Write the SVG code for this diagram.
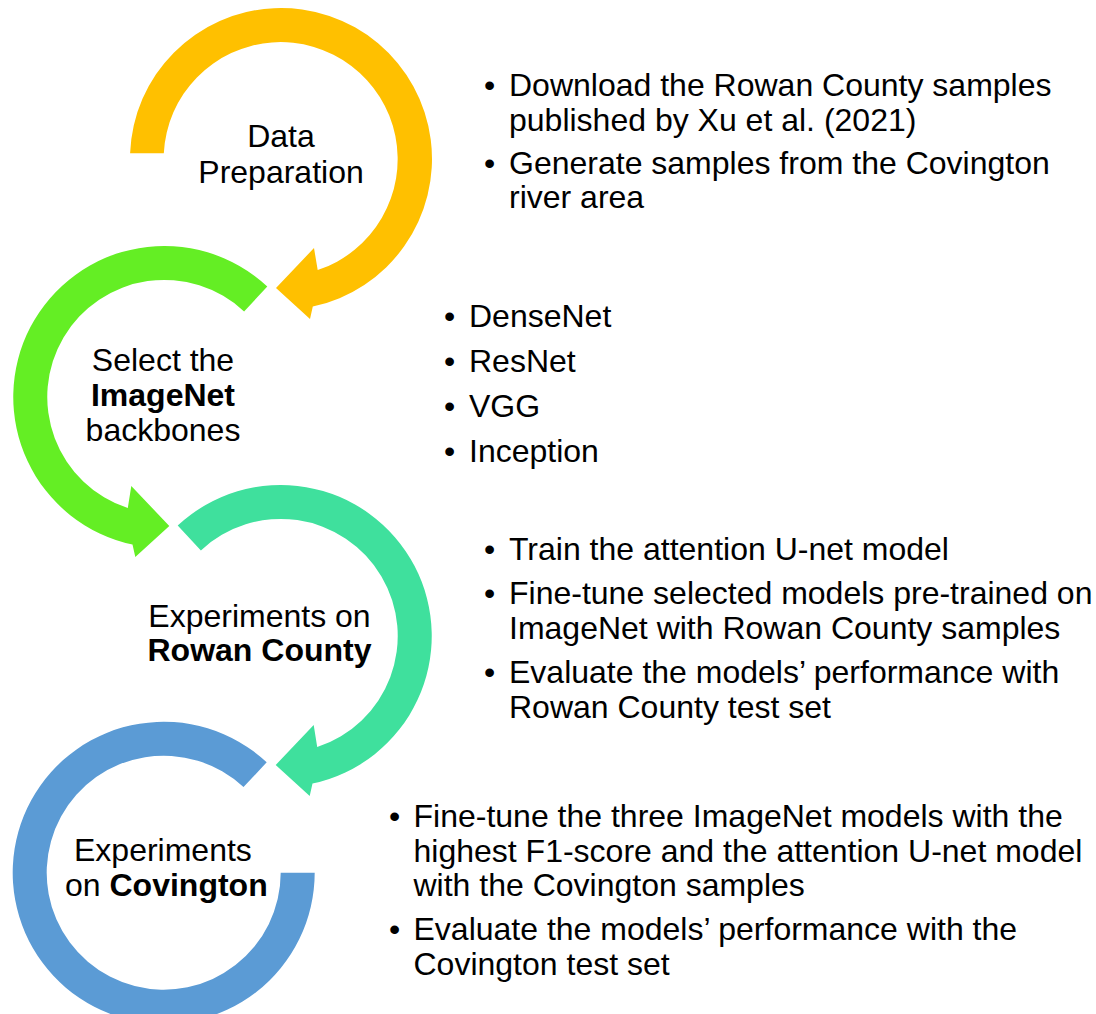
<svg xmlns="http://www.w3.org/2000/svg" width="1096" height="1014" viewBox="0 0 1096 1014">
<style>
  .t { font-family: "Liberation Sans", Arial, sans-serif; font-size: 32px; fill: #000; }
  .c { text-anchor: middle; }
  .b { font-weight: bold; }
  .yellow { fill: #FFC000; }
  .green { fill: #64EE24; }
  .teal { fill: #3FE09D; }
  .blue { fill: #5B9BD5; }
</style>
<rect width="1096" height="1014" fill="#fff"/>

<g id="node-data-preparation">
  <path class="yellow" d="M 130.1,153.3 A 151 151 0 1 1 312.8,306.6 L 310,319 L 276,288 L 314,248 L 317.7,270.1 A 117 117 0 1 0 163.8,153.3 Z"/>
  <text class="t c" x="281" y="147">Data</text>
  <text class="t c" x="281" y="183">Preparation</text>
</g>

<g id="node-select-backbones">
  <path class="green" d="M 267.3,286.6 A 151 151 0 1 0 132.5,544.6 L 135.3,557 L 169.3,526 L 131.3,486 L 127.8,508.1 A 117 117 0 1 1 244.1,311.4 Z"/>
  <text class="t c" x="163" y="371">Select the</text>
  <text class="t c b" x="163" y="406">ImageNet</text>
  <text class="t c" x="163" y="441">backbones</text>
</g>

<g id="node-rowan-county">
  <path class="teal" d="M 177.7,525.6 A 151 151 0 1 1 312.5,783.6 L 309.7,796 L 275.7,765 L 313.7,725 L 317.2,747.1 A 117 117 0 1 0 200.9,550.4 Z"/>
  <text class="t c" x="259.5" y="627">Experiments on</text>
  <text class="t c b" x="259.5" y="661">Rowan County</text>
</g>

<g id="node-covington">
  <path class="blue" d="M 266.7,762.3 A 151 151 0 1 0 314.7,872.7 L 280.7,872.7 A 117 117 0 1 1 243.5,787.1 Z"/>
  <text class="t" x="74" y="861">Experiments</text>
  <text class="t" x="65" y="896">on <tspan class="b">Covington</tspan></text>
</g>

<g id="connectors"></g>

<g id="list-data-preparation">
  <text class="t" x="484" y="96">•</text>
  <text class="t" x="509" y="96">Download the Rowan County samples</text>
  <text class="t" x="509" y="131">published by Xu et al. (2021)</text>
  <text class="t" x="484" y="174">•</text>
  <text class="t" x="509" y="174">Generate samples from the Covington</text>
  <text class="t" x="509" y="208">river area</text>
</g>

<g id="list-backbones">
  <text class="t" x="444" y="327">•</text>
  <text class="t" x="469" y="327">DenseNet</text>
  <text class="t" x="444" y="372">•</text>
  <text class="t" x="469" y="372">ResNet</text>
  <text class="t" x="444" y="417">•</text>
  <text class="t" x="469" y="417">VGG</text>
  <text class="t" x="444" y="462">•</text>
  <text class="t" x="469" y="462">Inception</text>
</g>

<g id="list-rowan-county">
  <text class="t" x="484" y="560">•</text>
  <text class="t" x="509" y="560">Train the attention U-net model</text>
  <text class="t" x="484" y="604">•</text>
  <text class="t" x="509" y="604">Fine-tune selected models pre-trained on</text>
  <text class="t" x="509" y="639">ImageNet with Rowan County samples</text>
  <text class="t" x="484" y="683">•</text>
  <text class="t" x="509" y="683">Evaluate the models’ performance with</text>
  <text class="t" x="509" y="718">Rowan County test set</text>
</g>

<g id="list-covington">
  <text class="t" x="389" y="827">•</text>
  <text class="t" x="413.5" y="827">Fine-tune the three ImageNet models with the</text>
  <text class="t" x="413.5" y="862">highest F1-score and the attention U-net model</text>
  <text class="t" x="413.5" y="896">with the Covington samples</text>
  <text class="t" x="389" y="940">•</text>
  <text class="t" x="413.5" y="940">Evaluate the models’ performance with the</text>
  <text class="t" x="413.5" y="975">Covington test set</text>
</g>
</svg>
